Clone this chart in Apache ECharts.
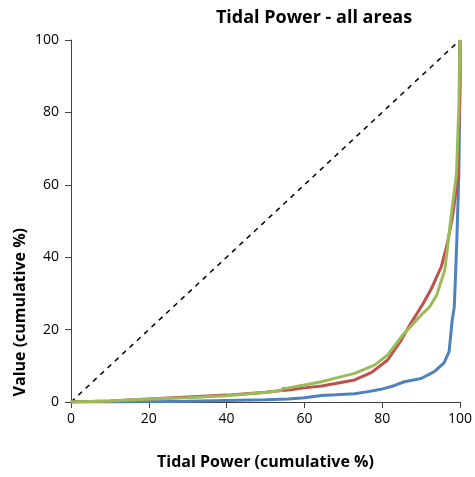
<!DOCTYPE html>
<html><head><meta charset="utf-8">
<script src="https://cdn.jsdelivr.net/npm/echarts@6/dist/echarts.min.js"></script>
<style>html,body{margin:0;padding:0;background:#fff}#c{width:475px;height:477px}</style>
</head><body><div id="c"></div>
<script>
var xTicks = [0, 20, 40, 60, 80, 100];
var yTicks = [0, 20, 40, 60, 80, 100];
var blueX = [0,10,20,30,40,50,55.9,60,64.4,68,72.9,76,79.7,83,85.7,90,93.4,95.9,97.2,98,98.5,98.6,99.2,99.7,100,100];
var blueY = [0,0,0.1,0.2,0.4,0.6,0.8,1.2,1.8,2.0,2.3,2.8,3.5,4.5,5.6,6.5,8.4,10.8,13.9,22.6,26,28,45,63,90,100];
var redX = [0,10,20,30,40,50,54,55.9,60,64.4,68,72.9,77.2,81.4,84.9,87.4,90.3,92.5,95.2,96.8,98.2,99.3,99.9,100,100];
var redY = [0,0.3,0.8,1.4,1.9,2.7,3.2,3.3,3.9,4.4,5.1,6.1,8.1,11.6,17.1,21.8,26.8,31,37.4,44,52,61,81.6,88,100];
var greenX = [0,10,20,30,40,50,54,54.5,55.9,60,64.4,68,72.9,78,81.4,85.3,90,92.2,94,96.1,97.8,99.1,99.7,100];
var greenY = [0,0.3,0.8,1.2,1.7,2.6,3.2,3.8,3.9,4.7,5.6,6.6,7.9,10.2,13,18.5,24,26.3,29.5,36.5,52,63,81.6,100];
var diagX = [0, 100];
var diagY = [0, 100];
function pts(xs, ys){ return xs.map(function(x,i){return [x, ys[i]];}); }
var chart = echarts.init(document.getElementById('c'));
var font = "'Open Sans', 'Liberation Sans', sans-serif";
chart.setOption({
  animation: false,
  title: { text: 'Tidal Power - all areas', left: 309, top: 4, textAlign: 'center',
    textStyle: { fontFamily: font, fontWeight: 'bold', fontSize: 18, color: '#000' } },
  grid: { left: 71, right: 13, top: 40, bottom: 75 },
  xAxis: { type: 'value', min: 0, max: 100, interval: 20,
    name: 'Tidal Power (cumulative %)', nameLocation: 'middle', nameGap: 52,
    nameTextStyle: { fontFamily: font, fontWeight: 'bold', fontSize: 16, color: '#000' },
    axisLine: { lineStyle: { color: '#404040', width: 1 } },
    axisTick: { show: true, length: 6, inside: false, lineStyle: { color: '#404040' } },
    axisLabel: { fontFamily: font, fontSize: 14, color: '#000', margin: 10,
      formatter: function(v){ return xTicks.indexOf(v) >= 0 ? String(v) : ''; } },
    splitLine: { show: false } },
  yAxis: { type: 'value', min: 0, max: 100, interval: 20,
    axisLine: { show: true, lineStyle: { color: '#404040', width: 1 } },
    axisTick: { show: true, length: 6, inside: false, lineStyle: { color: '#404040' } },
    axisLabel: { fontFamily: font, fontSize: 14, color: '#000', margin: 12,
      formatter: function(v){ return yTicks.indexOf(v) >= 0 ? String(v) : ''; } },
    splitLine: { show: false } },
  graphic: [{ type: 'text', left: 12, top: 228, rotation: Math.PI/2,
    style: { text: 'Value (cumulative %)', font: "bold 16px 'Open Sans', sans-serif", fill: '#000' } }],
  series: [
    { type: 'line', data: pts(diagX, diagY), symbol: 'none', lineStyle: { color: '#000', width: 1.5, type: [5, 5] }, z: 1 },
    { type: 'line', data: pts(blueX, blueY), symbol: 'none', lineStyle: { color: '#4F81BD', width: 3 }, z: 2 },
    { type: 'line', data: pts(redX, redY), symbol: 'none', lineStyle: { color: '#C0504D', width: 3 }, z: 3 },
    { type: 'line', data: pts(greenX, greenY), symbol: 'none', lineStyle: { color: '#9BBB59', width: 3 }, z: 4 }
  ]
});
</script></body></html>
